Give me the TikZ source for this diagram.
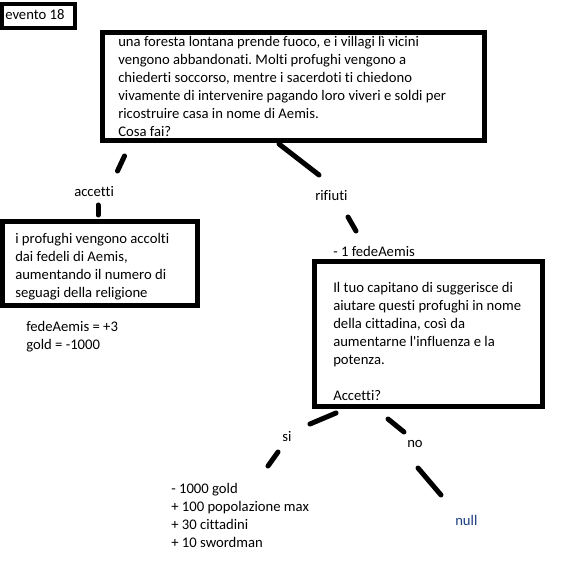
\documentclass[tikz,border=0pt]{standalone}
\usepackage{fontspec}
\setmainfont{Carlito}[Ligatures={TeXOff,CommonOff}]
\definecolor{nullblue}{RGB}{25,60,130}
\frenchspacing
\begin{document}
\begin{tikzpicture}[x=0.75pt,y=-0.75pt,
  box/.style={draw=black,line width=3.75pt},
  thinbox/.style={draw=black,line width=3.3pt},
  stroke/.style={draw=black,line width=3.75pt,line cap=round},
  txt/.style={anchor=base west,inner sep=0pt,font=\fontsize{11}{13.5}\selectfont\frenchspacing,align=left}]
\path[use as bounding box,fill=white] (0,0) rectangle (564,563);

% title box
\draw[thinbox] (2.2,4.2) rectangle (74.8,27.8);
\node[txt] (title) at (5,20) {evento 18};

% main box (anchor = baseline of last line)
\draw[box] (102.5,32.5) rectangle (484.5,140.5);
\node[txt] (main) at (118,137) {una foresta lontana prende fuoco, e i villagi lì vicini\\vengono abbandonati. Molti profughi vengono a\\chiederti soccorso, mentre i sacerdoti ti chiedono\\vivamente di intervenire pagando loro viveri e soldi per\\ricostruire casa in nome di Aemis.\\Cosa fai?};

% left branch
\coordinate (l1a) at (124.5,156);
\coordinate (l1b) at (117.5,171);
\draw[stroke] (l1a) -- (l1b);
\node[txt] (accetti) at (74,196) {accetti};
\coordinate (l2a) at (98,205);
\coordinate (l2b) at (98,215);
\draw[stroke] (l2a) -- (l2b);

\draw[box] (2.5,221.5) rectangle (197.5,305.5);
\node[txt] (accolti) at (15,297) {i profughi vengono accolti\\dai fedeli di Aemis,\\aumentando il numero di\\seguagi della religione};
\node[txt] (effA) at (26,349) {fedeAemis = +3\\gold = -1000};

% right branch
\coordinate (r1a) at (279,144);
\coordinate (r1b) at (319,175);
\draw[stroke] (r1a) -- (r1b);
\node[txt] (rifiuti) at (315,200) {rifiuti};
\coordinate (r2a) at (348,217);
\coordinate (r2b) at (356,231);
\draw[stroke] (r2a) -- (r2b);
\node[txt] (meno) at (333,256) {- 1 fedeAemis};

\draw[box] (314.5,261.5) rectangle (542.5,406.5);
\node[txt] (capitano) at (333,400) {Il tuo capitano di suggerisce di\\aiutare questi profughi in nome\\della cittadina, così da\\aumentarne l'influenza e la\\potenza.\\[\baselineskip]Accetti?};

% si branch
\coordinate (s1a) at (336,413);
\coordinate (s1b) at (310,424);
\draw[stroke] (s1a) -- (s1b);
\node[txt] (si) at (282,441) {si};
\coordinate (s2a) at (278,452);
\coordinate (s2b) at (268,466);
\draw[stroke] (s2a) -- (s2b);
\node[txt] (effSi) at (171,547) {- 1000 gold\\+ 100 popolazione max\\+ 30 cittadini\\+ 10 swordman};

% no branch
\coordinate (n1a) at (388,419);
\coordinate (n1b) at (404,432);
\draw[stroke] (n1a) -- (n1b);
\node[txt] (no) at (407,447) {no};
\coordinate (n2a) at (418,468);
\coordinate (n2b) at (441,495);
\draw[stroke] (n2a) -- (n2b);
\node[txt,text=nullblue] (null) at (455,525) {null};
\end{tikzpicture}
\end{document}
